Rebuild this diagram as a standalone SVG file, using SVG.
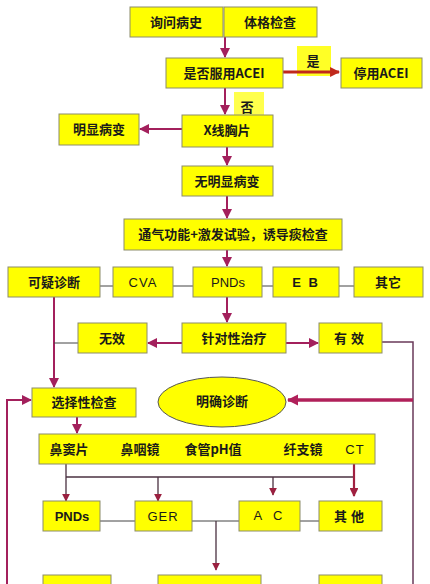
<svg xmlns="http://www.w3.org/2000/svg" width="430" height="584" viewBox="0 0 430 584">
<defs>
<style>
.b{fill:#ffff00;stroke:#8c8c6a;stroke-width:1}
.t{font-family:"Noto Sans CJK SC","Liberation Sans",sans-serif;font-size:13px;font-weight:bold;fill:#1a1a1a;text-anchor:middle}
.l{font-family:"Liberation Sans","Noto Sans CJK SC",sans-serif;font-size:13px;fill:#1a1a1a;text-anchor:middle}
.a{stroke:#a3205c;stroke-width:2;fill:none}
.r{stroke:#c0281c;stroke-width:3;fill:none}
.d{stroke:#4a3040;stroke-width:1.3;fill:none}
.g{stroke:#444;stroke-width:1;fill:none}
.p{stroke:#6a3a5a;stroke-width:1.5;fill:none}
</style>
<marker id="m" viewBox="0 0 10 10" refX="9" refY="5" markerWidth="5" markerHeight="5" orient="auto"><path d="M0,0 L10,5 L0,10 z" fill="#a3205c"/></marker>
<marker id="mr" viewBox="0 0 10 10" refX="9" refY="5" markerWidth="3.3" markerHeight="3.3" orient="auto"><path d="M0,0 L10,5 L0,10 z" fill="#c0281c"/></marker>
<marker id="mp" viewBox="0 0 10 10" refX="9" refY="5" markerWidth="3.3" markerHeight="3.3" orient="auto"><path d="M0,0 L10,5 L0,10 z" fill="#b0205a"/></marker>
<marker id="md" viewBox="0 0 10 10" refX="9" refY="5" markerWidth="6" markerHeight="6" orient="auto"><path d="M0,0 L10,5 L0,10 z" fill="#9a2040"/></marker>
<marker id="mc" viewBox="0 0 10 10" refX="9" refY="5" markerWidth="4" markerHeight="4" orient="auto"><path d="M0,0 L10,5 L0,10 z" fill="#a02040"/></marker>
</defs>
<rect width="430" height="584" fill="#ffffff"/>

<g id="labels">
<rect x="297" y="46" width="34" height="30" fill="#ffff00" opacity="0.85"/>
<text class="t" x="313" y="66">是</text>
<rect x="234" y="92" width="30" height="24" fill="#ffff00" opacity="0.7"/>
<text class="t" x="247" y="112">否</text>
</g>

<g id="connectors">
<line class="a" x1="225" y1="37" x2="225" y2="57" marker-end="url(#m)"/>
<line class="r" x1="283" y1="72" x2="339" y2="72" marker-end="url(#mr)"/>
<line class="a" x1="225" y1="88" x2="225" y2="114" marker-end="url(#m)"/>
<line class="a" x1="182" y1="129" x2="140" y2="129" marker-end="url(#m)"/>
<line class="a" x1="227" y1="147" x2="227" y2="165" marker-end="url(#m)"/>
<line class="a" x1="227" y1="196" x2="227" y2="218" marker-end="url(#m)"/>
<line class="a" x1="227" y1="250" x2="227" y2="266" marker-end="url(#m)"/>
<line class="g" x1="100" y1="286" x2="113" y2="286"/>
<line class="g" x1="173" y1="286" x2="193" y2="286"/>
<line class="g" x1="262" y1="286" x2="273" y2="286"/>
<line class="g" x1="339" y1="286" x2="354" y2="286"/>
<line class="a" x1="54" y1="297" x2="54" y2="387" marker-end="url(#m)"/>
<line class="a" x1="227" y1="297" x2="227" y2="322" marker-end="url(#m)"/>
<line class="a" x1="182" y1="343" x2="148" y2="343" marker-end="url(#m)"/>
<line class="a" x1="286" y1="343" x2="318" y2="343" marker-end="url(#m)"/>
<line class="g" x1="54" y1="343" x2="78" y2="343"/>
<polyline class="p" points="373,342 413,342 413,584"/>
<line stroke="#b0205a" stroke-width="3.5" x1="413" y1="400" x2="288" y2="400" marker-end="url(#mp)"/>
<polyline class="a" points="7,584 7,400 31,400" marker-end="url(#m)"/>
<line class="a" x1="77" y1="417" x2="77" y2="433" marker-end="url(#m)"/>
<line class="d" x1="66" y1="464" x2="66" y2="501" marker-end="url(#md)"/>
<line class="d" x1="66" y1="477" x2="353" y2="477"/>
<line class="d" x1="158" y1="477" x2="158" y2="501" marker-end="url(#md)"/>
<line class="d" x1="273" y1="477" x2="273" y2="495" marker-end="url(#md)"/>
<line x1="354" y1="464" x2="354" y2="496" stroke="#a02040" stroke-width="2.2" marker-end="url(#mc)"/>
<line class="g" x1="100" y1="521" x2="135" y2="521"/>
<line class="g" x1="192" y1="521" x2="239" y2="521"/>
<line class="g" x1="300" y1="521" x2="319" y2="521"/>
<line class="d" x1="216" y1="521" x2="216" y2="570" marker-end="url(#md)"/>
</g>

<g id="n1"><rect class="b" x="130" y="7" width="93" height="30"/><text class="t" x="176" y="27">询问病史</text></g>
<g id="n2"><rect class="b" x="224" y="7" width="93" height="30"/><text class="t" x="270" y="27">体格检查</text></g>
<g id="n3"><rect class="b" x="166" y="58" width="117" height="30"/><text class="t" x="224" y="78">是否服用ACEI</text></g>
<g id="n4"><rect class="b" x="341" y="58" width="81" height="30"/><text class="t" x="381" y="78">停用ACEI</text></g>
<g id="n5"><rect class="b" x="182" y="115" width="91" height="32"/><text class="t" x="227" y="135">X线胸片</text></g>
<g id="n6"><rect class="b" x="59" y="114" width="80" height="31"/><text class="t" x="99" y="134">明显病变</text></g>
<g id="n7"><rect class="b" x="182" y="166" width="91" height="30"/><text class="t" x="227" y="186">无明显病变</text></g>
<g id="n8"><rect class="b" x="124" y="219" width="218" height="31"/><text class="t" x="233" y="239">通气功能+激发试验，诱导痰检查</text></g>
<g id="n9"><rect class="b" x="8" y="267" width="92" height="30"/><text class="t" x="54" y="287">可疑诊断</text></g>
<g id="n10"><rect class="b" x="113" y="267" width="60" height="30"/><text class="l" x="143" y="287" style="letter-spacing:1px">CVA</text></g>
<g id="n11"><rect class="b" x="193" y="267" width="69" height="30"/><text class="l" x="228" y="287">PNDs</text></g>
<g id="n12"><rect class="b" x="273" y="267" width="66" height="30"/><text class="l" x="306" y="287" style="font-weight:bold;letter-spacing:2px">E B</text></g>
<g id="n13"><rect class="b" x="354" y="267" width="69" height="30"/><text class="t" x="388" y="287">其它</text></g>
<g id="n14"><rect class="b" x="78" y="323" width="69" height="30"/><text class="t" x="112" y="343">无效</text></g>
<g id="n15"><rect class="b" x="182" y="323" width="104" height="30"/><text class="t" x="234" y="343">针对性治疗</text></g>
<g id="n16"><rect class="b" x="319" y="323" width="63" height="30"/><text class="t" x="351" y="343" style="letter-spacing:4px">有效</text></g>
<g id="n17"><ellipse cx="222" cy="402" rx="64" ry="25" fill="#ffff00" stroke="#555" stroke-width="1"/><text class="t" x="222" y="406">明确诊断</text></g>
<g id="n18"><rect class="b" x="32" y="388" width="104" height="29"/><text class="t" x="84" y="407">选择性检查</text></g>
<g id="n19"><rect class="b" x="39" y="434" width="336" height="30"/>
<text class="t" x="69" y="454">鼻窦片</text>
<text class="t" x="140" y="454">鼻咽镜</text>
<text class="t" x="213" y="454">食管pH值</text>
<text class="t" x="303" y="454">纤支镜</text>
<text class="l" x="355" y="454" style="letter-spacing:1px">CT</text></g>
<g id="n20"><rect class="b" x="43" y="501" width="57" height="30"/><text class="l" x="72" y="521" style="font-weight:bold">PNDs</text></g>
<g id="n21"><rect class="b" x="135" y="501" width="57" height="30"/><text class="l" x="163" y="521" style="letter-spacing:1px">GER</text></g>
<g id="n22"><rect class="b" x="239" y="501" width="61" height="30"/><text class="l" x="270" y="520" style="letter-spacing:4px">A C</text></g>
<g id="n23"><rect class="b" x="319" y="501" width="63" height="30"/><text class="t" x="351" y="521" style="letter-spacing:4px">其他</text></g>
<g id="n24"><rect class="b" x="43" y="575" width="68" height="20"/></g>
<g id="n25"><rect class="b" x="158" y="575" width="103" height="20"/></g>
<g id="n26"><rect class="b" x="319" y="575" width="63" height="20"/></g>
</svg>
